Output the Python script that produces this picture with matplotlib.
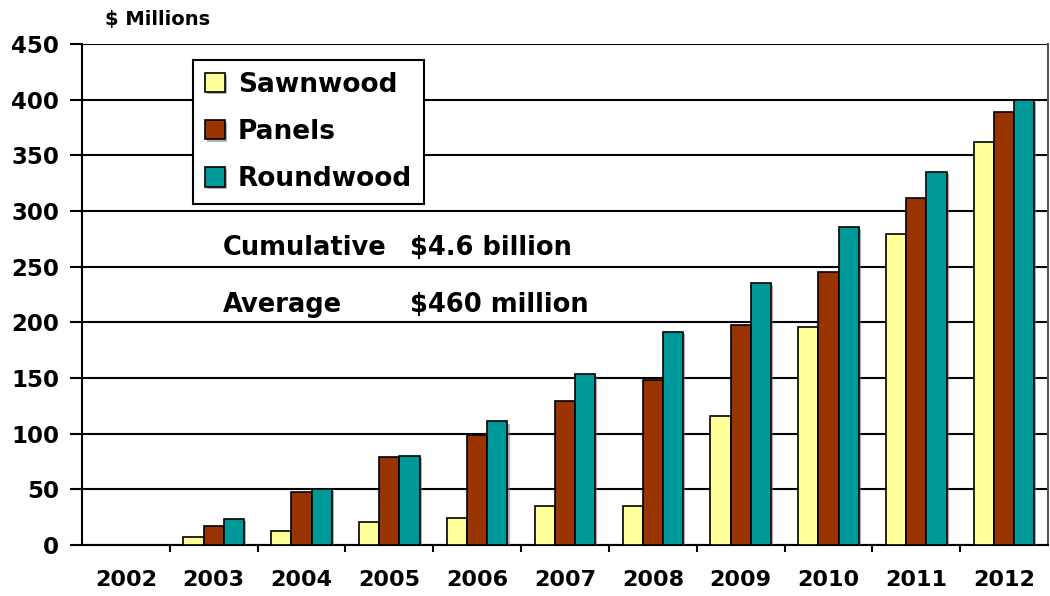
import numpy as np
import matplotlib
matplotlib.use("Agg")
from matplotlib import pyplot as plt
import matplotlib.patheffects as pe

years = ['2002', '2003', '2004', '2005', '2006', '2007', '2008', '2009', '2010', '2011', '2012']
sawnwood = [0, 7, 13, 21, 24, 35, 35, 116, 196, 279, 362]
panels = [0, 17, 48, 79, 99, 129, 148, 198, 245, 312, 389]
roundwood = [0, 23, 50, 80, 111, 154, 191, 235, 286, 335, 400]

series = [('Sawnwood', sawnwood, '#FFFF99'),
          ('Panels', panels, '#993300'),
          ('Roundwood', roundwood, '#009999')]

# the source looks like stretched Arial, DejaVu bold is wide enough to match
plt.rcParams['font.family'] = ['DejaVu Sans']
plt.rcParams['font.weight'] = 'bold'

fig = plt.figure(figsize=(10.5, 5.96), dpi=100)
ax = fig.add_axes([82/1050, 51/596, 966/1050, 501/596])

x = np.arange(len(years))
w = 0.23
shadow = [pe.SimplePatchShadow(offset=(1.5, -1.5), shadow_rgbFace='#808080', alpha=0.6), pe.Normal()]
for i, (name, vals, col) in enumerate(series):
    bars = ax.bar(x + (i - 1) * w, vals, w, color=col, edgecolor='black', linewidth=1.2,
                  label=name, zorder=3)
    for b in bars:
        b.set_path_effects(shadow)

ax.set_xlim(-0.5, len(years) - 0.5)
ax.set_ylim(0, 450)
ax.set_yticks(range(0, 451, 50))
ax.yaxis.grid(True, color='black', linewidth=1.5, zorder=0)
ax.set_xticks(x)
ax.set_xticklabels(years, fontsize=16, fontweight='bold')
ax.set_xticks(np.arange(0.5, len(years) - 1, 1), minor=True)
ax.tick_params(axis='x', which='major', length=0, pad=18)
ax.tick_params(axis='x', which='minor', length=5, width=1.5, direction='out')
ax.tick_params(axis='y', labelsize=16.5, length=8.6, width=1.5, direction='out', pad=8)
for lab in ax.get_yticklabels():
    lab.set_fontweight('bold')
for sp in ['left', 'bottom', 'right']:
    ax.spines[sp].set_linewidth(1.5)
ax.spines['top'].set_visible(False)
ax.spines['right'].set_color('#555555')

fig.text(105/1050, 1 - 20/596, '$ Millions', fontsize=14, fontweight='bold', va='center')

leg = ax.legend(loc='upper left', bbox_to_anchor=(111/966, 1 - 16/501), fontsize=19,
                frameon=True, fancybox=False, edgecolor='black', framealpha=1,
                handlelength=0.75, handleheight=0.75, handletextpad=0.5,
                borderpad=0.45, labelspacing=0.8, borderaxespad=0)
leg.get_frame().set_linewidth(1.5)
leg.set_zorder(5)
for t in leg.get_texts():
    t.set_fontweight('bold')

# white panel interrupting gridlines behind the summary text
ax.axvspan(0.9, 5.8, ymin=170/450, ymax=290/450, color='white', zorder=1)
ax.text(1.1, 267, 'Cumulative', fontsize=18.5, fontweight='bold', va='center', zorder=4)
ax.text(3.24, 267, '$4.6 billion', fontsize=18.5, fontweight='bold', va='center', zorder=4)
ax.text(1.1, 216, 'Average', fontsize=18.5, fontweight='bold', va='center', zorder=4)
ax.text(3.24, 216, '$460 million', fontsize=18.5, fontweight='bold', va='center', zorder=4)

fig.savefig('out.png', dpi=100)
